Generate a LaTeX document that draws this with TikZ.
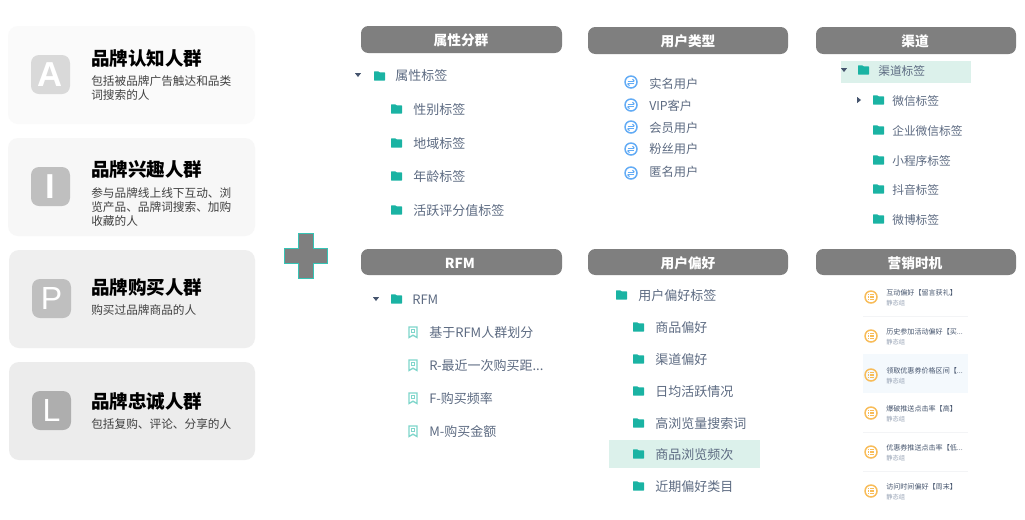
\documentclass[tikz,border=0pt]{standalone}
\usepackage{fontspec}
\setmainfont{Noto Sans CJK SC}
\newfontfamily\latinf{Liberation Sans}
\newcommand\tdots{...}
\definecolor{tealf}{HTML}{1AB3A3}
\definecolor{tealb}{HTML}{7FD6CB}
\definecolor{plusedge}{HTML}{35C4B5}
\definecolor{hdr}{HTML}{7F7F7F}
\definecolor{slate}{HTML}{5D6B82}
\definecolor{slatedark}{HTML}{46556E}
\definecolor{subgrey}{HTML}{97A3B5}
\definecolor{bluei}{HTML}{62ABF5}
\definecolor{orangei}{HTML}{F8BC58}
\definecolor{hlteal}{HTML}{DCF1EB}
\definecolor{hlblue}{HTML}{F4F9FD}
\definecolor{sepl}{HTML}{F3F4F6}
\definecolor{cardA}{HTML}{FAFAFA}
\definecolor{cardI}{HTML}{F7F7F7}
\definecolor{cardP}{HTML}{EFEFEF}
\definecolor{cardL}{HTML}{ECECEC}
\definecolor{icoA}{HTML}{D9D9D9}
\definecolor{icoI}{HTML}{BFBFBF}
\definecolor{icoP}{HTML}{BFBFBF}
\definecolor{icoL}{HTML}{AEAEAE}
\tikzset{
  cardbox/.style={rounded corners=7.5pt,draw=none},
  letterbox/.style={rounded corners=6pt,draw=none},
  letterfont/.style={text=white,font=\latinf\fontsize{24}{24}\selectfont,inner sep=0pt},
  letterbold/.style={text=white,font=\latinf\bfseries\fontsize{26}{26}\selectfont,inner sep=0pt},
  cardtitle/.style={anchor=west,inner sep=0pt,text=black,font=\fontsize{13.9}{16}\bfseries\selectfont},
  carddesc/.style={anchor=north west,inner sep=0pt,align=left,text=black!75,font=\fontsize{8.75}{10.5}\selectfont},
  hdrbox/.style={fill=hdr,rounded corners=5.5pt,draw=none},
  hdrtext/.style={text=white,inner sep=0pt,yshift=-.4pt,font=\fontsize{10.3}{12}\bfseries\selectfont},
  treeitem/.style={anchor=west,inner sep=0pt,yshift=-.75pt,text=slate,font=\fontsize{9.75}{12}\selectfont},
  treeitemsm/.style={anchor=west,inner sep=0pt,yshift=-.75pt,text=slate,font=\fontsize{8.8}{12}\selectfont},
  typeitem/.style={anchor=west,inner sep=0pt,yshift=-.75pt,text=slate,font=\fontsize{9.2}{12}\selectfont},
  groupitem/.style={anchor=west,inner sep=0pt,yshift=-.75pt,text=slatedark,font=\fontsize{5.3}{7}\selectfont},
  groupsub/.style={anchor=west,inner sep=0pt,yshift=-.75pt,text=subgrey,font=\fontsize{4.7}{6}\selectfont},
  folderico/.pic={\fill[tealf,rounded corners=0.4pt] (0,-4.7)--(4.5,-4.7)--(5.5,-3.6)--(11,-3.6)--(11,4.7)--(0,4.7)--cycle;},
  caretdown/.pic={\fill[slatedark] (-3,-1.8)--(3,-1.8)--(0,2)--cycle;},
  caretright/.pic={\fill[slatedark] (-1.8,-3)--(-1.8,3)--(2,0)--cycle;},
  swapico/.pic={\draw[bluei,line width=1.1pt] (0,0) circle (6);
    \draw[bluei,line width=.8pt] (-3.4,-.8)--(3.4,-.8);
    \draw[bluei,line width=.8pt] (-3.4,1.6)--(3.4,1.6);
    \draw[bluei,line width=.8pt] (1.5,-2.8)--(3.4,-.8);
    \draw[bluei,line width=.8pt] (-1.5,3.6)--(-3.4,1.6);},
  listico/.pic={\draw[orangei,line width=1.1pt] (0,0) circle (6);
    \foreach \yy in {-2.3,0,2.3}{\draw[orangei,line width=.8pt] (-2.8,\yy)--(-2,\yy) (-1,\yy)--(3,\yy);}},
  markico/.pic={\draw[tealb,line width=1pt] (-4,5.5)--(-4,-5)--(4,-5)--(4,5.5)--(0,3.2)--cycle;
    \draw[tealb,line width=.8pt] (-1.8,-2.8) rectangle (1.8,.6);},
}
\begin{document}
\begin{tikzpicture}[x=0.75pt,y=-0.75pt]
\useasboundingbox (0,0) rectangle (1025,519);
\fill[white] (0,0) rectangle (1025,519);

% cards
\fill[cardbox,cardA] (8,26) rectangle (255,124);
\fill[cardbox,cardI] (8,138) rectangle (255,236);
\fill[cardbox,cardP] (9,250) rectangle (255,348);
\fill[cardbox,cardL] (9,362) rectangle (255,460);
\fill[letterbox,icoA] (31,55) rectangle (70,94);
\fill[letterbox,icoI] (31,167) rectangle (70,206);
\fill[letterbox,icoP] (32,279) rectangle (71,318);
\fill[letterbox,icoL] (32,391) rectangle (71,430);
\node[letterbold] (letA) at (50.5,74.5) {A};
\node[letterbold] (letI) at (50.5,186.5) {I};
\node[letterfont] (letP) at (51.5,298.5) {P};
\node[letterfont] (letL) at (51.5,410.5) {L};
\node[cardtitle] (tA) at (91,58) {品牌认知人群};
\node[cardtitle] (tI) at (91,169) {品牌兴趣人群};
\node[cardtitle] (tP) at (91,287) {品牌购买人群};
\node[cardtitle] (tL) at (91,401) {品牌忠诚人群};
\node[carddesc] (dA) at (91,75.5) {包括被品牌广告触达和品类\\词搜索的人};
\node[carddesc] (dI) at (91,187.5) {参与品牌线上线下互动、浏\\览产品、品牌词搜索、加购\\收藏的人};
\node[carddesc] (dP) at (91,304.5) {购买过品牌商品的人};
\node[carddesc] (dL) at (91,418.5) {包括复购、评论、分享的人};

% plus
\filldraw[fill=hdr,draw=plusedge,line width=.6pt]
  (298,233)--(313,233)--(313,248)--(327,248)--(327,263)--(313,263)--(313,278)--(298,278)--(298,263)--(284,263)--(284,248)--(298,248)--cycle;

% headers
\fill[hdrbox] (361,26) rectangle (562,53);
\fill[hdrbox] (588,27) rectangle (788,54);
\fill[hdrbox] (816,27) rectangle (1016,54);
\fill[hdrbox] (361,249) rectangle (562,275);
\fill[hdrbox] (588,249) rectangle (788,275);
\fill[hdrbox] (816,249) rectangle (1016,275);
\node[hdrtext] (h1) at (461,40) {属性分群};
\node[hdrtext] (h2) at (688,41) {用户类型};
\node[hdrtext] (h3) at (915,41) {渠道};
\node[hdrtext] (h4) at (460,263) {RFM};
\node[hdrtext] (h5) at (688,263) {用户偏好};
\node[hdrtext] (h6) at (915,263) {营销时机};

% tree 1
\pic at (358,75) {caretdown};
\pic at (374,76) {folderico};
\node[treeitem] (a0) at (395,75) {属性标签};
\foreach \yy/\nm/\tx in {109/a1/性别标签,143/a2/地域标签,176/a3/年龄标签,210/a4/活跃评分值标签}{
  \pic at (391,\yy) {folderico};
  \node[treeitem] (\nm) at (413,\yy) {\tx};
}

% user types
\foreach \yy/\ty/\nm/\tx in {82/83/b1/实名用户,105/105/b2/VIP客户,127/127/b3/会员用户,149/148/b4/粉丝用户,173/171/b5/匿名用户}{
  \pic at (631,\yy) {swapico};
  \node[typeitem] (\nm) at (649,\ty) {\tx};
}

% channel tree
\fill[hlteal] (841,61) rectangle (971,83);
\pic at (844,70) {caretdown};
\pic at (858,70) {folderico};
\node[treeitemsm] (c0) at (878,70) {渠道标签};
\pic at (859,100) {caretright};
\foreach \yy/\nm/\tx in {100/c1/微信标签,130/c2/企业微信标签,160/c3/小程序标签,189/c4/抖音标签,219/c5/微博标签}{
  \pic at (873,\yy) {folderico};
  \node[treeitemsm] (\nm) at (892,\yy) {\tx};
}

% RFM tree
\pic at (376,299) {caretdown};
\pic at (391,299) {folderico};
\node[treeitem] (r0) at (412,299) {RFM};
\foreach \yy/\nm/\tx in {332/r1/基于RFM人群划分,365/r2/R-最近一次购买距\tdots,398/r3/F-购买频率,431/r4/M-购买金额}{
  \pic at (413,\yy) {markico};
  \node[treeitem] (\nm) at (429,\yy) {\tx};
}

% preference tree
\fill[hlteal] (609,440) rectangle (760,468);
\pic at (616,295) {folderico};
\node[treeitem] (p0) at (638,295) {用户偏好标签};
\foreach \yy/\nm/\tx in {327/p1/商品偏好,359/p2/渠道偏好,391/p3/日均活跃情况,423/p4/高浏览量搜索词,454/p5/商品浏览频次,486/p6/近期偏好类目}{
  \pic at (633,\yy) {folderico};
  \node[treeitem] (\nm) at (655,\yy) {\tx};
}

% timing list
\fill[hlblue] (863,354) rectangle (968,393);
\foreach \yy in {316,432,471}{\draw[sepl,line width=.6pt] (863,\yy)--(968,\yy);}
\foreach \yy/\nm/\tx in {292/g1/互动偏好【留言获礼】,331/g2/历史参加活动偏好【买\tdots,370/g3/领取优惠券价格区间【\tdots,408/g4/爆破推送点击率【高】,447/g5/优惠券推送点击率【低\tdots,486/g6/访问时间偏好【周末】}{
  \pic at (871,\yy+5) {listico};
  \node[groupitem] (\nm) at (886,\yy) {\tx};
  \node[groupsub] (\nm s) at (886,\yy+10) {静态组};
}
\end{tikzpicture}
\end{document}
